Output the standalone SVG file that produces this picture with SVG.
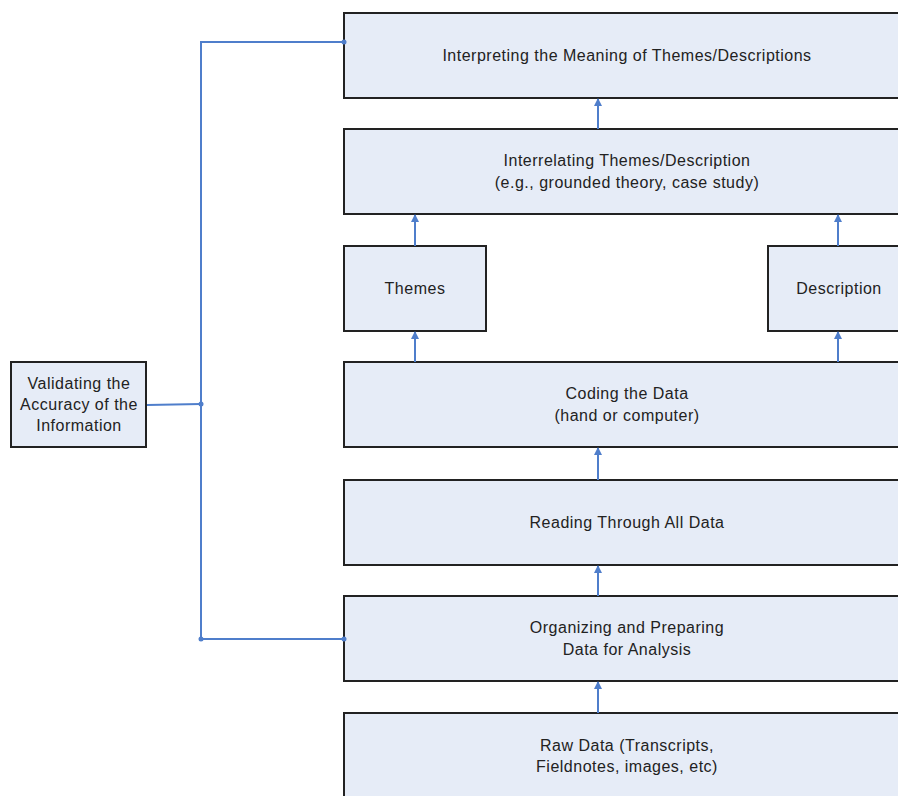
<svg xmlns="http://www.w3.org/2000/svg" width="898" height="796" viewBox="0 0 898 796">
<style>
.box{fill:#E6ECF7;stroke:#222;stroke-width:2}
.t{font-family:"Liberation Sans",Arial,sans-serif;font-size:16px;letter-spacing:0.5px;fill:#222;text-anchor:middle}
.c{stroke:#4F7ECB;stroke-width:2;fill:none}
.d{fill:#4F7ECB}
</style>
<defs>
<marker id="ah" markerWidth="8" markerHeight="8" refX="7" refY="4" orient="auto" markerUnits="userSpaceOnUse">
<path d="M0,0 L8,4 L0,8 Z" fill="#4F7ECB"/>
</marker>
</defs>
<rect width="898" height="796" fill="#fff"/>
<g id="n-interpreting"><rect class="box" x="344" y="13" width="570" height="85"/><text class="t" x="627" y="61">Interpreting the Meaning of Themes/Descriptions</text></g>
<g id="n-interrelating"><rect class="box" x="344" y="129" width="570" height="85"/><text class="t" x="627" y="166">Interrelating Themes/Description</text><text class="t" x="627" y="188">(e.g., grounded theory, case study)</text></g>
<g id="n-themes"><rect class="box" x="344" y="246" width="142" height="85"/><text class="t" x="415" y="294">Themes</text></g>
<g id="n-description"><rect class="box" x="768" y="246" width="146" height="85"/><text class="t" x="839" y="294">Description</text></g>
<g id="n-coding"><rect class="box" x="344" y="362" width="570" height="85"/><text class="t" x="627" y="399">Coding the Data</text><text class="t" x="627" y="421">(hand or computer)</text></g>
<g id="n-reading"><rect class="box" x="344" y="480" width="570" height="85"/><text class="t" x="627" y="528">Reading Through All Data</text></g>
<g id="n-organizing"><rect class="box" x="344" y="596" width="570" height="85"/><text class="t" x="627" y="633">Organizing and Preparing</text><text class="t" x="627" y="655">Data for Analysis</text></g>
<g id="n-raw"><rect class="box" x="344" y="713" width="570" height="100"/><text class="t" x="627" y="751">Raw Data (Transcripts,</text><text class="t" x="627" y="772">Fieldnotes, images, etc)</text></g>
<g id="n-validating"><rect class="box" x="11" y="362" width="135" height="85"/><text class="t" x="79" y="389">Validating the</text><text class="t" x="79" y="410">Accuracy of the</text><text class="t" x="79" y="431">Information</text></g>
<g id="connectors">
<line class="c" x1="598" y1="713" x2="598" y2="682" marker-end="url(#ah)"/>
<line class="c" x1="598" y1="596" x2="598" y2="566" marker-end="url(#ah)"/>
<line class="c" x1="598" y1="480" x2="598" y2="448" marker-end="url(#ah)"/>
<line class="c" x1="415" y1="362" x2="415" y2="332" marker-end="url(#ah)"/>
<line class="c" x1="838" y1="362" x2="838" y2="332" marker-end="url(#ah)"/>
<line class="c" x1="415" y1="246" x2="415" y2="215" marker-end="url(#ah)"/>
<line class="c" x1="838" y1="246" x2="838" y2="215" marker-end="url(#ah)"/>
<line class="c" x1="598" y1="129" x2="598" y2="99" marker-end="url(#ah)"/>
<polyline class="c" points="344,42 201,42 201,639 344,639"/>
<line class="c" x1="147" y1="405" x2="201" y2="404"/>
<circle class="d" cx="344" cy="42" r="2.5"/>
<circle class="d" cx="344" cy="639" r="2.5"/>
<circle class="d" cx="201" cy="639" r="2.5"/>
<circle class="d" cx="201" cy="404" r="2.5"/>
</g>
</svg>
